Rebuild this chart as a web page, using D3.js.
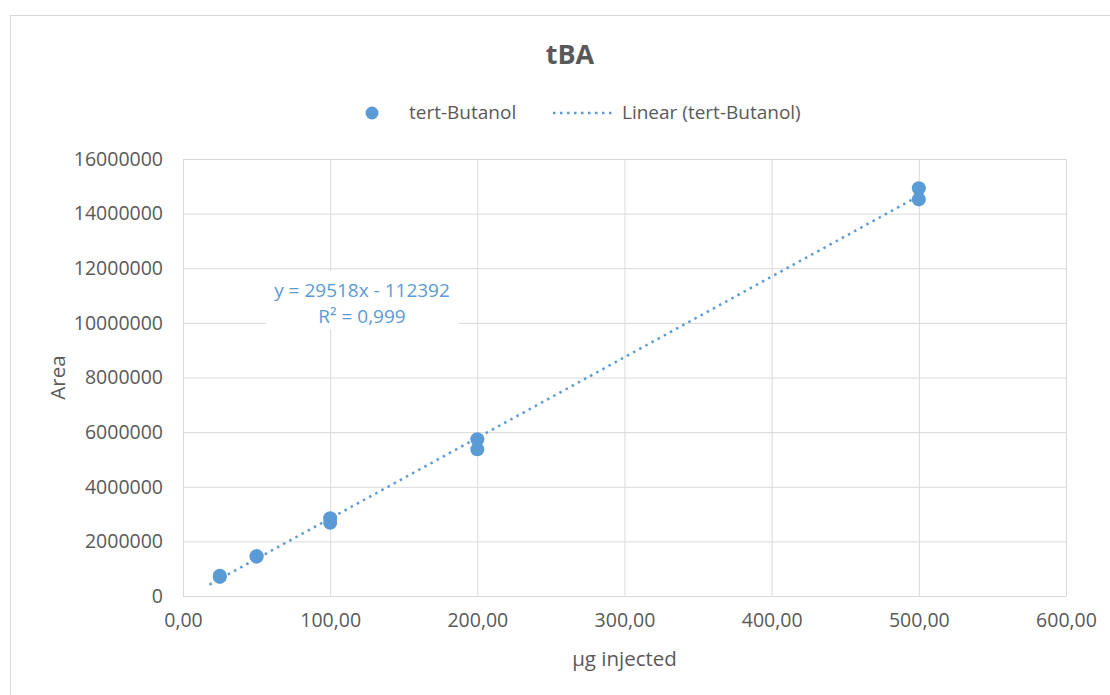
<!DOCTYPE html>
<html>
<head>
  <meta charset="utf-8">
  <title>tBA</title>
  <script src="https://d3js.org/d3.v7.min.js"></script>
  <style>
    body { margin: 0; background: #fff; }
    text { font-family: "Open Sans", sans-serif; fill: #595959; }
    .grid line { stroke: #d9d9d9; stroke-width: 1; }
    .grid .domain { display: none; }
  </style>
</head>
<body>
<div id="chart"></div>
<script>
  // data
  var seriesName = "tert-Butanol";
  var concentrations = [25, 25, 50, 50, 100, 100, 200, 200, 500, 500];
  var areas = [700000, 740000, 1440000, 1460000, 2680000, 2850000, 5370000, 5740000, 14520000, 14930000];
  var xTicks = [0, 100, 200, 300, 400, 500, 600];
  var yTicks = [0, 2000000, 4000000, 6000000, 8000000, 10000000, 12000000, 14000000, 16000000];
  // Excel trendline shown in the chart
  var trendCoef = [29518, -112392];
  var trendRange = [18, 500];
  var trendLabel = ["y = 29518x - 112392", "R² = 0,999"];

  var W = 1110, H = 695;
  var margin = { top: 159, right: 44, bottom: 99, left: 183 },
    width = W - margin.left - margin.right,
    height = H - margin.top - margin.bottom;

  var blue = "#5b9bd5";

  var root = d3.select("#chart").append("svg")
    .attr("width", W).attr("height", H);

  // chart frame (cut off by the window on right and bottom)
  root.append("rect")
    .attr("x", 10.5).attr("y", 15.5)
    .attr("width", 1200).attr("height", 800)
    .attr("fill", "#fff").attr("stroke", "#d9d9d9");

  var svg = root.append("g")
    .attr("transform", "translate(" + margin.left + "," + margin.top + ")");

  var x = d3.scaleLinear().domain([0, 600]).range([0, width]);
  var y = d3.scaleLinear().domain([0, 16000000]).range([height, 0]);

  var comma = d3.formatLocale({ decimal: ",", thousands: ".", grouping: [3], currency: ["", ""] });

  // gridlines + tick labels
  var gx = svg.append("g")
    .attr("class", "grid")
    .attr("transform", "translate(0," + height + ")")
    .call(d3.axisBottom(x).tickValues(xTicks).tickSize(-height).tickPadding(11).tickFormat(comma.format(".2f")));
  var gy = svg.append("g")
    .attr("class", "grid")
    .call(d3.axisLeft(y).tickValues(yTicks).tickSize(-width).tickPadding(20).tickFormat(d3.format("d")));
  svg.selectAll(".grid text")
    .style("font-size", "19.5px")
    .attr("fill", "#595959");
  gx.selectAll("text").attr("dy", "1em");

  // equation label background
  svg.append("rect")
    .attr("x", 266 - margin.left).attr("y", 271 - margin.top)
    .attr("width", 192).attr("height", 58)
    .attr("fill", "#fff");

  // trendline
  svg.append("path")
    .datum(trendRange)
    .attr("fill", "none")
    .attr("stroke", blue)
    .attr("stroke-width", 2.5)
    .attr("stroke-dasharray", "2.5,4.5")
    .attr("d", d3.line()
      .x(function (d) { return x(d); })
      .y(function (d) { return y(trendCoef[0] * d + trendCoef[1]); }));

  // points
  svg.selectAll("circle.pt")
    .data(concentrations)
    .enter().append("circle")
    .attr("class", "pt")
    .attr("cx", function (d) { return x(d); })
    .attr("cy", function (d, i) { return y(areas[i]); })
    .attr("r", 7)
    .attr("fill", blue);

  // equation text
  svg.append("text")
    .attr("x", 362 - margin.left).attr("y", 297 - margin.top)
    .attr("text-anchor", "middle")
    .style("font-size", "19px")
    .style("fill", blue)
    .selectAll("tspan")
    .data(trendLabel)
    .enter().append("tspan")
    .attr("x", 362 - margin.left)
    .attr("dy", function (d, i) { return i ? 26 : 0; })
    .text(function (d) { return d; });

  // title
  root.append("text")
    .attr("x", 570).attr("y", 64)
    .attr("text-anchor", "middle")
    .style("font-size", "27px")
    .style("font-weight", "bold")
    .text("tBA");

  // legend
  var leg = root.append("g").style("font-size", "19px");
  leg.append("circle").attr("cx", 372).attr("cy", 113).attr("r", 6.5).attr("fill", blue);
  leg.append("text").attr("x", 409).attr("y", 119).text(seriesName);
  leg.append("line")
    .attr("x1", 553).attr("x2", 615).attr("y1", 113).attr("y2", 113)
    .attr("stroke", blue).attr("stroke-width", 2.5).attr("stroke-dasharray", "2.5,4.5");
  leg.append("text").attr("x", 622).attr("y", 119).text("Linear (" + seriesName + ")");

  // axis titles
  root.append("text")
    .attr("x", margin.left + width / 2).attr("y", 666)
    .attr("text-anchor", "middle")
    .style("font-size", "20.5px")
    .text("µg injected");
  root.append("text")
    .attr("transform", "translate(65," + (margin.top + height / 2) + ") rotate(-90)")
    .attr("text-anchor", "middle")
    .style("font-size", "20.5px")
    .text("Area");
</script>
</body>
</html>
